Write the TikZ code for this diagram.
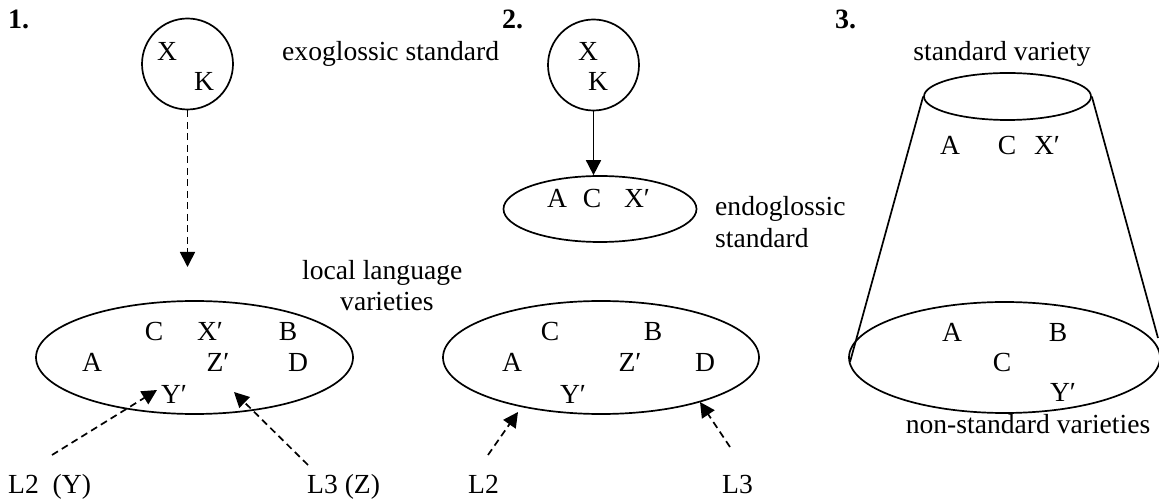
\documentclass[tikz,border=0pt]{standalone}
\usepackage{fontspec}
\setmainfont{Liberation Serif}
\usetikzlibrary{arrows.meta,shapes.geometric}

\tikzset{
  lbl/.style={anchor=base, inner sep=0pt},
  lblw/.style={anchor=base west, inner sep=0pt},
  numlbl/.style={lblw, font=\fontsize{28}{31}\selectfont\bfseries},
  ring/.style={draw, circle, minimum size=91pt, inner sep=0pt, line width=1.7pt},
  oval/.style={draw, ellipse, inner sep=0pt, line width=1.7pt},
  solidarrow/.style={line width=1.7pt, -{Triangle[length=15pt,width=15pt]}},
  dasharrow/.style={solidarrow, dash pattern=on 7pt off 4.5pt},
  coneline/.style={line width=1.7pt}
}

\begin{document}
\begin{tikzpicture}[x=1pt, y=-1pt, font=\fontsize{27.6}{31}\selectfont]
\useasboundingbox (0,0) rectangle (1159,502);

% ---------- 1. exoglossic standard ----------
\node[numlbl] (n1) at (8,29) {1.};
\node[ring] (c1) at (187.5,64) {};
\node[lbl] (c1x) at (167,61) {X};
\node[lbl] (c1k) at (204,91) {K};
\node[lblw] (exo) at (282,61) {exoglossic standard};

\node[lblw] (loc1) at (302,280) {local language};
\node[lblw] (loc2) at (340,311) {varieties};

\node[oval, minimum width=317pt, minimum height=113pt] (e1) at (194.5,357.5) {};
\node[lbl] (e1c) at (154,341) {C};
\node[lbl] (e1x) at (210,341) {X′};
\node[lbl] (e1b) at (288,341) {B};
\node[lbl] (e1a) at (92,372) {A};
\node[lbl] (e1z) at (218,372) {Z′};
\node[lbl] (e1d) at (298,372) {D};
\node[lbl] (e1y) at (174,403) {Y′};

\node[lblw] (l2y) at (8,493) {L2~~(Y)};
\node[lblw] (l3z) at (307,493) {L3 (Z)};

\coordinate (t1) at (187.5,267);
\draw[dasharrow] (c1.south) -- (t1);
\coordinate (a1s) at (52,455);
\coordinate (a1t) at (157,390);
\draw[dasharrow] (a1s) -- (a1t);
\coordinate (b1s) at (308,465);
\coordinate (b1t) at (234,392);
\draw[dasharrow] (b1s) -- (b1t);

% ---------- 2. endoglossic standard ----------
\node[numlbl] (n2) at (502,29) {2.};
\node[ring] (c2) at (593.5,65) {};
\node[lbl] (c2x) at (588,61) {X};
\node[lbl] (c2k) at (598,91) {K};

\node[oval, minimum width=193pt, minimum height=66pt] (e2) at (600,209) {};
\node[lbl] (e2a) at (557,208) {A};
\node[lbl] (e2c) at (592,208) {C};
\node[lbl] (e2x) at (637,208) {X′};
\node[lblw] (endo1) at (715,216) {endoglossic};
\node[lblw] (endo2) at (715,248) {standard};

\draw[solidarrow] (c2.south) -- (c2.south |- e2.north);

\node[oval, minimum width=316pt, minimum height=113pt] (e3) at (601,357.5) {};
\node[lbl] (e3c) at (550,341) {C};
\node[lbl] (e3b) at (653,341) {B};
\node[lbl] (e3a) at (512,372) {A};
\node[lbl] (e3z) at (630,372) {Z′};
\node[lbl] (e3d) at (705,372) {D};
\node[lbl] (e3y) at (573,403) {Y′};

\node[lblw] (l2) at (468,493) {L2};
\node[lblw] (l3) at (722,493) {L3};

\coordinate (a2s) at (488,455);
\coordinate (a2t) at (518,412);
\draw[dasharrow] (a2s) -- (a2t);
\coordinate (b2s) at (730,447);
\coordinate (b2t) at (700,402);
\draw[dasharrow] (b2s) -- (b2t);

% ---------- 3. standard / non-standard cone ----------
\node[numlbl] (n3) at (835,29) {3.};
\node[lbl] (stv) at (1002,61) {standard variety};
\node[oval, minimum width=167pt, minimum height=47pt] (top) at (1007.5,96.5) {};
\node[lbl] (ta) at (950,155) {A};
\node[lbl] (tc) at (1007,155) {C};
\node[lbl] (tx) at (1047,155) {X′};

\node[oval, minimum width=311pt, minimum height=111pt] (bot) at (1004.5,357.5) {};
\node[lbl] (ba) at (952,342) {A};
\node[lbl] (bb) at (1058,342) {B};
\node[lbl] (bc) at (1002,372) {C};
\node[lbl] (by) at (1063,402) {Y′};
\node[lbl] (nsv) at (1028,433) {non-standard varieties};

\coordinate (coneL) at (850,362);
\coordinate (coneR) at (1158,338);
\draw[coneline] (top.west) -- (coneL);
\draw[coneline] (top.east) -- (coneR);
\end{tikzpicture}
\end{document}
